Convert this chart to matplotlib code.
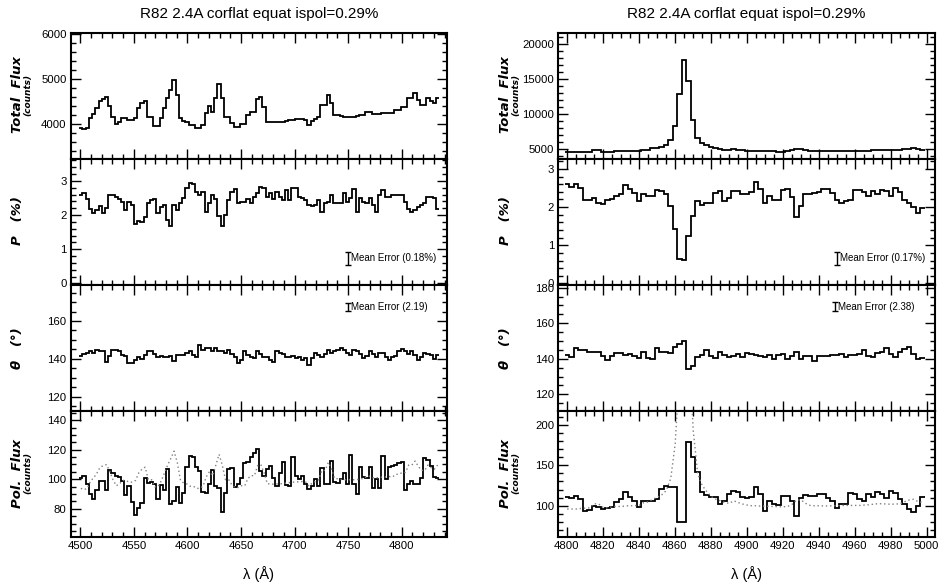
import numpy as np
import matplotlib.pyplot as plt
from matplotlib.ticker import MultipleLocator

plt.rcParams['font.family'] = ['Liberation Sans', 'DejaVu Sans']

# ---- data ----
title = "R82 2.4A corflat equat ispol=0.29%"

# left column: 4499-4835 A in 3 A bins
left_start, left_binw = 4499.0, 3.0
left_flux = [3925, 3890, 3925, 4135, 4225, 4360, 4525, 4570, 4600, 4400,
             4170, 4000, 4045, 4150, 4150, 4100, 4100, 4150, 4360, 4470,
             4525, 4170, 4170, 3970, 3970, 4135, 4360, 4585, 4775, 4980,
             4660, 4150, 4075, 4050, 3985, 3985, 3925, 3925, 3985, 4250,
             4400, 4285, 4585, 4890, 4585, 4170, 4170, 4020, 3950, 3950,
             4000, 4000, 4210, 4285, 4285, 4570, 4600, 4375, 4060, 4045,
             4045, 4050, 4055, 4060, 4080, 4090, 4100, 4110, 4110, 4120,
             4100, 3985, 4080, 4120, 4170, 4435, 4435, 4660, 4470, 4200,
             4200, 4180, 4170, 4170, 4170, 4170, 4175, 4200, 4200, 4270,
             4270, 4225, 4225, 4230, 4250, 4250, 4260, 4250, 4325, 4325,
             4375, 4375, 4585, 4585, 4700, 4550, 4435, 4435, 4585, 4510,
             4470, 4585]
left_pol = [2.60, 2.64, 2.46, 2.19, 2.06, 2.14, 2.26, 2.05, 2.20, 2.60,
            2.60, 2.54, 2.46, 2.39, 2.14, 2.39, 2.29, 1.75, 1.83, 1.80,
            1.95, 2.36, 2.44, 2.46, 2.05, 2.24, 2.29, 1.85, 1.67, 2.29,
            2.14, 2.34, 2.49, 2.78, 2.95, 2.91, 2.68, 2.59, 2.68, 2.09,
            2.34, 2.59, 2.46, 1.97, 1.67, 2.00, 2.44, 2.68, 2.75, 2.36,
            2.39, 2.39, 2.46, 2.34, 2.52, 2.64, 2.83, 2.78, 2.54, 2.64,
            2.46, 2.66, 2.54, 2.44, 2.73, 2.44, 2.78, 2.78, 2.54, 2.49,
            2.44, 2.29, 2.26, 2.29, 2.44, 2.09, 2.34, 2.39, 2.59, 2.36,
            2.34, 2.34, 2.64, 2.39, 2.49, 2.75, 2.09, 2.49, 2.39, 2.34,
            2.49, 2.29, 2.09, 2.59, 2.73, 2.54, 2.54, 2.59, 2.59, 2.60,
            2.60, 2.39, 2.19, 2.09, 2.16, 2.24, 2.29, 2.34, 2.54, 2.54,
            2.49, 2.19]
left_theta = [141.6, 142.5, 143.3, 143.9, 143.0, 144.7, 143.9, 143.9, 138.6, 141.6,
              144.7, 144.7, 143.9, 142.1, 141.6, 137.7, 137.7, 139.5, 141.2, 139.8,
              142.1, 143.9, 143.9, 142.6, 141.2, 141.6, 141.2, 141.2, 141.6, 139.1,
              142.1, 142.1, 142.1, 143.0, 144.4, 142.1, 141.2, 147.4, 144.7, 145.6,
              145.6, 144.4, 145.6, 143.9, 144.4, 143.0, 144.7, 142.6, 141.2, 137.7,
              139.5, 143.9, 142.1, 141.2, 140.4, 143.9, 142.6, 141.2, 140.9, 139.5,
              138.6, 143.9, 143.0, 142.5, 140.9, 140.9, 141.6, 140.4, 141.2, 139.5,
              140.4, 136.8, 140.4, 143.3, 142.1, 141.2, 142.6, 144.7, 143.0, 143.9,
              144.7, 145.6, 144.7, 143.3, 142.1, 144.7, 143.9, 142.6, 140.4, 141.6,
              144.4, 142.6, 140.9, 143.0, 143.0, 141.2, 139.5, 140.9, 141.6, 143.9,
              145.2, 144.4, 142.6, 143.9, 142.1, 139.5, 141.2, 143.3, 142.6, 142.1,
              139.8, 142.1]
left_polflux = [101.1, 102.3, 96.6, 90.2, 86.4, 92.8, 98.9, 98.9, 92.5, 106.1,
                104.5, 102.3, 101.6, 98.9, 89.3, 95.5, 84.8, 75.7, 80.2, 84.0,
                100.7, 97.7, 98.4, 97.0, 86.4, 96.1, 92.5, 106.8, 83.4, 85.0,
                94.8, 84.1, 90.9, 108.0, 115.9, 115.2, 108.0, 105.7, 91.6, 90.9,
                96.6, 106.1, 95.5, 93.9, 78.0, 90.9, 106.8, 107.5, 94.8, 96.6,
                100.7, 110.7, 111.4, 115.2, 117.5, 120.5, 105.7, 102.3, 106.8, 109.1,
                101.1, 95.5, 104.5, 111.4, 96.1, 95.5, 115.2, 102.3, 100.0, 102.3,
                97.0, 93.2, 95.5, 100.0, 95.5, 107.5, 96.6, 96.6, 112.5, 98.4,
                97.7, 100.0, 104.5, 96.6, 116.6, 96.6, 89.8, 108.0, 101.6, 100.7,
                108.0, 94.3, 100.0, 94.3, 115.9, 100.0, 108.0, 109.1, 109.8, 110.7,
                112.0, 92.5, 97.0, 98.9, 97.0, 97.0, 100.7, 114.3, 113.0, 109.1,
                101.6, 101.1]
left_flux_scale = 0.0239      # dotted curve = scaled total flux
left_err_p, left_err_theta = 0.18, 2.19

# right column: 4799-4999 A in 2.5 A bins
right_start, right_binw = 4799.0, 2.5
right_flux = [4570, 4570, 4570, 4600, 4620, 4640, 4880, 4860, 4660, 4640,
              4700, 4720, 4720, 4750, 4760, 4770, 4780, 4950, 4980, 5140,
              5250, 5400, 5650, 6350, 8400, 12950, 17700, 14700, 9200, 6650,
              5950, 5600, 5300, 5150, 5050, 4950, 4900, 5050, 4950, 4860,
              4800, 4760, 4760, 4740, 4740, 4720, 4720, 4700, 4700, 4720,
              4850, 5100, 5100, 4900, 4780, 4760, 4760, 4750, 4750, 4760,
              4760, 4780, 4780, 4780, 4780, 4780, 4800, 4820, 4850, 4880,
              4880, 4860, 4850, 4860, 4880, 5000, 5100, 5140, 5000, 4950]
right_pol = [2.61, 2.53, 2.61, 2.50, 2.18, 2.18, 2.24, 2.11, 2.09, 2.18,
             2.21, 2.30, 2.35, 2.59, 2.48, 2.37, 2.15, 2.33, 2.28, 2.30,
             2.44, 2.41, 2.33, 2.02, 1.42, 0.65, 0.62, 1.24, 1.77, 2.15,
             2.06, 2.12, 2.12, 2.37, 2.41, 2.15, 2.24, 2.41, 2.43, 2.33,
             2.34, 2.39, 2.65, 2.48, 2.11, 2.30, 2.19, 2.18, 2.44, 2.48,
             2.26, 1.75, 2.04, 2.33, 2.35, 2.37, 2.39, 2.48, 2.48, 2.37,
             2.19, 2.11, 2.15, 2.19, 2.46, 2.44, 2.39, 2.28, 2.41, 2.33,
             2.46, 2.41, 2.28, 2.50, 2.39, 2.19, 2.12, 2.00, 1.84, 1.97]
right_theta = [142.3, 140.9, 146.0, 144.7, 145.1, 143.6, 143.6, 144.1, 141.3, 139.4,
               141.7, 143.2, 143.2, 142.3, 142.8, 141.7, 140.4, 143.6, 140.4, 139.8,
               146.0, 144.1, 143.6, 143.2, 146.9, 148.4, 149.8, 134.2, 135.7, 140.9,
               142.3, 145.1, 141.7, 140.4, 144.1, 142.3, 140.9, 141.7, 142.8, 140.9,
               143.2, 142.8, 142.3, 141.7, 140.9, 142.3, 139.8, 142.3, 142.8, 139.8,
               141.7, 144.1, 139.8, 141.7, 141.7, 138.5, 141.3, 141.7, 141.7, 142.3,
               142.3, 142.8, 140.9, 142.3, 142.3, 142.8, 144.7, 141.3, 140.9, 143.2,
               144.1, 146.0, 142.8, 140.9, 144.1, 145.4, 146.6, 142.8, 139.8, 140.4]
right_polflux = [111.1, 109.5, 112.3, 108.2, 93.8, 94.7, 100.0, 97.9, 95.9, 97.1,
                 97.9, 104.1, 108.2, 116.5, 110.3, 106.2, 98.8, 105.3, 106.2, 105.3,
                 108.2, 120.6, 124.7, 122.6, 122.6, 79.4, 79.4, 178.2, 160.5, 141.2,
                 117.3, 113.6, 110.3, 111.1, 102.1, 105.3, 114.4, 117.7, 116.5, 110.3,
                 109.5, 111.1, 123.5, 114.4, 93.8, 106.2, 102.1, 101.2, 112.3, 112.3,
                 106.2, 87.7, 109.5, 113.6, 112.3, 112.3, 114.4, 114.4, 109.5, 105.3,
                 97.1, 102.1, 102.1, 115.2, 114.4, 108.2, 106.2, 114.4, 110.3, 116.5,
                 114.4, 109.5, 118.5, 115.2, 108.2, 102.1, 95.9, 91.8, 100.0, 111.1]
right_flux_scale = 0.021
right_err_p, right_err_theta = 0.17, 2.38

W, H = 938, 584
fig = plt.figure(figsize=(W / 100, H / 100), dpi=100)


def fx(px):
    return px / W


def fy(py):
    return 1 - py / H


def make_column(x0, x1, start, binw, flux, pol, theta, polflux, scale, err_p, err_th,
                xlim, xmaj, xmin, ylims, ymajs, ymins, err_pos):
    flux = np.array(flux, float)
    n = len(flux)
    edges = start + binw * np.arange(n + 1)
    centers = 0.5 * (edges[:-1] + edges[1:])
    tops = [32.7, 158.6, 284.5, 410.6]
    ph = 126.2
    axes = []
    for k, (yv, ylim, ymaj, ymn) in enumerate(zip([flux, pol, theta, polflux], ylims, ymajs, ymins)):
        ax = fig.add_axes([fx(x0), fy(tops[k] + ph), fx(x1 - x0), ph / H])
        ax.stairs(yv, edges, baseline=None, color='black', lw=1.3)
        ax.set_xlim(xlim)
        ax.set_ylim(ylim)
        ax.xaxis.set_major_locator(MultipleLocator(xmaj))
        ax.xaxis.set_minor_locator(MultipleLocator(xmin))
        ax.yaxis.set_major_locator(MultipleLocator(ymaj))
        ax.yaxis.set_minor_locator(MultipleLocator(ymn))
        ax.tick_params(which='both', direction='in', top=True, right=True,
                       width=1.0, labelsize=8.2, pad=3)
        ax.tick_params(which='major', length=7)
        ax.tick_params(which='minor', length=3.5)
        for s in ax.spines.values():
            s.set_linewidth(1.5)
        if k < 3:
            ax.tick_params(labelbottom=False)
        axes.append(ax)
    # dotted comparison: scaled total flux
    axes[3].plot(centers, flux * scale, ls=(0, (1, 2)), color='0.5', lw=1.0)
    # mean-error markers
    (xp, yp), (xt, yt) = err_pos
    axes[1].errorbar([xp], [yp], yerr=[err_p], color='black', lw=1, capsize=2.5)
    axes[1].text(xp + (xlim[1] - xlim[0]) * 0.008, yp, f"Mean Error ({err_p:.2f}%)",
                 fontsize=7, va='center', ha='left')
    axes[2].errorbar([xt], [yt], yerr=[err_th], color='black', lw=1, capsize=2.5)
    axes[2].text(xt + (xlim[1] - xlim[0]) * 0.008, yt, f"Mean Error ({err_th:.2f})",
                 fontsize=7, va='center', ha='left')
    # labels
    cx = (x0 + x1) / 2
    fig.text(fx(cx), fy(14), title, ha='center', va='center', fontsize=11)
    fig.text(fx(cx), fy(574), "λ (Å)", ha='center', va='center', fontsize=10.5)
    lab = dict(rotation=90, ha='center', va='center', family=['DejaVu Sans'],
               style='italic', fontweight='bold')
    fig.text(fx(x0 - 53), fy(95), "Total  Flux", fontsize=9.5, **lab)
    fig.text(fx(x0 - 43), fy(95), "(counts)", fontsize=6.5, **lab)
    fig.text(fx(x0 - 53), fy(221), "P   (%)", fontsize=9.5, **lab)
    fig.text(fx(x0 - 53), fy(348), "θ   (°)", fontsize=9.5, **lab)
    fig.text(fx(x0 - 53), fy(473), "Pol.  Flux", fontsize=9.5, **lab)
    fig.text(fx(x0 - 43), fy(473), "(counts)", fontsize=6.5, **lab)
    return axes


make_column(70.7, 446.7, left_start, left_binw, left_flux, left_pol, left_theta,
            left_polflux, left_flux_scale, left_err_p, left_err_theta,
            (4491, 4842), 50, 10,
            [(3230, 6040), (-0.04, 3.65), (112.6, 179.3), (61, 146.5)],
            [1000, 1, 20, 20], [200, 0.2, 5, 5],
            ((4750, 0.73), (4750, 167.5)))

make_column(558.3, 935.0, right_start, right_binw, right_flux, right_pol, right_theta,
            right_polflux, right_flux_scale, right_err_p, right_err_theta,
            (4795.3, 5004.6), 20, 5,
            [(3650, 21650), (-0.035, 3.27), (110.8, 181.8), (61.7, 217.3)],
            [5000, 1, 20, 50], [1000, 0.2, 5, 10],
            ((4950, 0.66), (4949, 169.3)))

fig.savefig("out.png", dpi=100)
